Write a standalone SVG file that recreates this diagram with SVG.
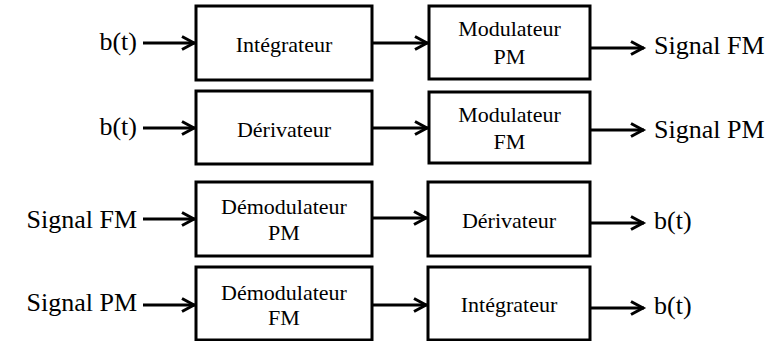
<svg xmlns="http://www.w3.org/2000/svg" width="780" height="341" viewBox="0 0 780 341">
<style>
.box{fill:#fff;stroke:#000;stroke-width:3}
.ar{fill:none;stroke:#000;stroke-width:3;marker-end:url(#ah)}
</style>
<defs>
<marker id="ah" markerWidth="18" markerHeight="18" refX="14" refY="8" orient="auto" markerUnits="userSpaceOnUse">
<path d="M1,1.5 L13,8 L1,14.5" fill="none" stroke="#000" stroke-width="3"/>
</marker>
</defs>
<rect width="780" height="341" fill="#fff"/>
<g id="connectors">
<path class="ar" d="M143,43 H195"/>
<path class="ar" d="M372,43 H428"/>
<path class="ar" d="M590,48 H644"/>
<path class="ar" d="M143,128 H195"/>
<path class="ar" d="M372,128 H428"/>
<path class="ar" d="M590,130 H644"/>
<path class="ar" d="M143,219 H195"/>
<path class="ar" d="M372,218 H427"/>
<path class="ar" d="M590,223 H644"/>
<path class="ar" d="M143,305 H195"/>
<path class="ar" d="M372,305 H427"/>
<path class="ar" d="M590,308 H644"/>
</g>
<g id="labels" font-family="Liberation Serif" font-size="26" fill="#000">
<text x="137" y="50" text-anchor="end" font-family="Liberation Serif">b(t)</text>
<text x="654" y="54" font-family="Liberation Serif">Signal FM</text>
<text x="137" y="135" text-anchor="end" font-family="Liberation Serif">b(t)</text>
<text x="654" y="138" font-family="Liberation Serif">Signal PM</text>
<text x="137" y="228" text-anchor="end" font-family="Liberation Serif">Signal FM</text>
<text x="654" y="229" font-family="Liberation Serif">b(t)</text>
<text x="137" y="311" text-anchor="end" font-family="Liberation Serif">Signal PM</text>
<text x="654" y="314" font-family="Liberation Serif">b(t)</text>
</g>
<g id="integrateur1" font-family="Liberation Serif" font-size="22" text-anchor="middle">
<rect class="box" x="196" y="6" width="176" height="74"/>
<text x="284" y="52" font-family="Liberation Serif">Intégrateur</text>
</g>
<g id="modulateurPM" font-family="Liberation Serif" font-size="22" text-anchor="middle">
<rect class="box" x="429" y="6" width="161" height="73"/>
<text x="509.5" y="36" font-family="Liberation Serif">Modulateur</text>
<text x="509.5" y="64" font-family="Liberation Serif">PM</text>
</g>
<g id="derivateur1" font-family="Liberation Serif" font-size="22" text-anchor="middle">
<rect class="box" x="196" y="91" width="176" height="73"/>
<text x="284" y="137" font-family="Liberation Serif">Dérivateur</text>
</g>
<g id="modulateurFM" font-family="Liberation Serif" font-size="22" text-anchor="middle">
<rect class="box" x="429" y="92" width="161" height="71"/>
<text x="509.5" y="122" font-family="Liberation Serif">Modulateur</text>
<text x="509.5" y="149" font-family="Liberation Serif">FM</text>
</g>
<g id="demodulateurPM" font-family="Liberation Serif" font-size="22" text-anchor="middle">
<rect class="box" x="196" y="182" width="176" height="74"/>
<text x="284" y="214" font-family="Liberation Serif">Démodulateur</text>
<text x="284" y="240" font-family="Liberation Serif">PM</text>
</g>
<g id="derivateur2" font-family="Liberation Serif" font-size="22" text-anchor="middle">
<rect class="box" x="428" y="182" width="162" height="74"/>
<text x="509" y="228" font-family="Liberation Serif">Dérivateur</text>
</g>
<g id="demodulateurFM" font-family="Liberation Serif" font-size="22" text-anchor="middle">
<rect class="box" x="196" y="267" width="176" height="73"/>
<text x="284" y="300" font-family="Liberation Serif">Démodulateur</text>
<text x="284" y="325" font-family="Liberation Serif">FM</text>
</g>
<g id="integrateur2" font-family="Liberation Serif" font-size="22" text-anchor="middle">
<rect class="box" x="428" y="267" width="162" height="73"/>
<text x="509" y="312" font-family="Liberation Serif">Intégrateur</text>
</g>
</svg>
